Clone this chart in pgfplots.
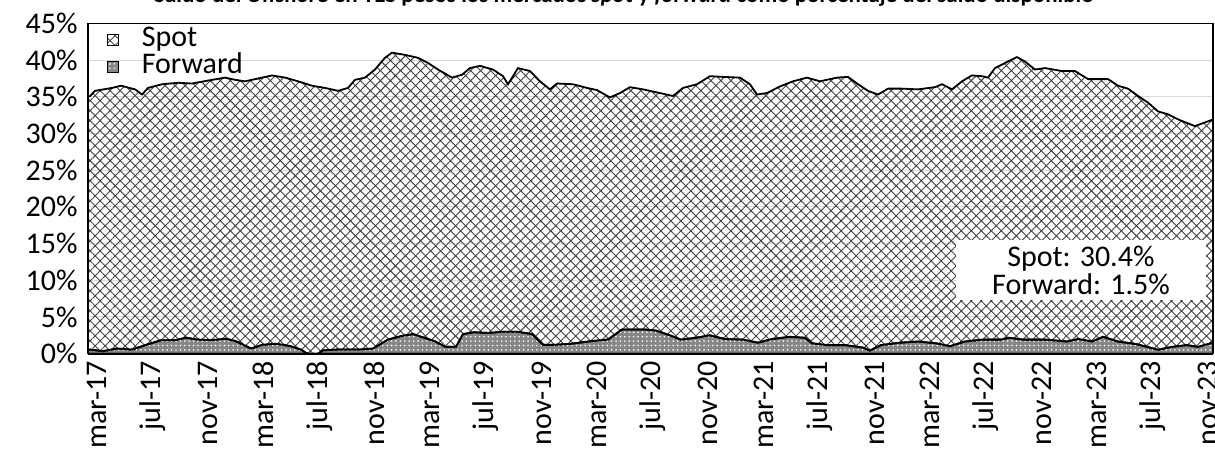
\documentclass[border=0pt]{standalone}
\usepackage{pgfplots}
\pgfplotsset{compat=1.18}
\usepackage{fontspec}
\setmainfont{Carlito}
\usetikzlibrary{patterns,patterns.meta}

\pgfplotstableread{
x y
-0.65 35.0
-0.50 35.1
-0.14 35.8
1.08 36.2
1.73 36.5
2.74 36.0
3.24 35.3
3.67 36.2
4.68 36.7
5.83 36.9
6.84 36.8
7.99 37.2
9.22 37.6
9.94 37.3
10.66 37.1
11.88 37.6
12.60 37.9
13.54 37.6
14.47 37.1
15.48 36.5
16.41 36.2
17.35 35.8
18.07 36.2
18.57 37.3
19.29 37.6
20.01 38.7
20.73 40.3
21.24 41.0
22.17 40.7
23.11 40.3
23.83 39.6
24.55 38.7
25.56 37.6
26.28 38.0
26.85 38.9
27.57 39.2
28.51 38.7
29.23 37.8
29.59 36.7
30.31 38.9
31.17 38.5
31.89 37.1
32.61 36.0
33.12 36.8
34.27 36.7
35.28 36.2
36.00 35.9
36.93 34.9
37.65 35.5
38.37 36.3
39.31 36.0
40.53 35.5
41.47 35.1
42.19 36.2
43.20 36.7
44.13 37.8
45.07 37.7
46.29 37.6
47.01 36.7
47.52 35.3
48.24 35.5
49.17 36.4
50.11 37.1
51.12 37.6
52.05 37.1
53.28 37.6
54.07 37.7
54.79 36.7
55.51 35.8
56.23 35.3
56.95 36.1
57.96 36.1
59.11 36.0
60.33 36.3
60.84 36.7
61.56 36.0
62.28 37.1
62.99 37.9
63.71 37.8
64.15 37.6
64.65 38.9
65.59 39.8
66.23 40.4
66.81 39.8
67.53 38.7
68.25 38.9
69.47 38.5
70.41 38.5
71.35 37.4
72.79 37.4
73.51 36.5
74.23 36.1
74.95 35.1
75.67 34.2
76.39 33.0
77.11 32.6
77.97 31.8
79.05 31.0
79.77 31.5
80.35 31.9
}\spottable

\pgfplotstableread{
x y
-0.65 0.50
-0.50 0.56
0.43 0.35
1.44 0.70
2.52 0.56
3.53 1.20
4.61 1.84
5.62 1.84
6.41 2.18
7.20 1.93
8.21 1.84
9.29 2.03
10.01 1.69
11.09 0.70
11.88 1.20
12.89 1.35
13.89 1.05
14.69 0.56
15.05 0.10
15.26 0.00
15.91 0.00
16.27 0.46
17.28 0.56
18.86 0.56
19.87 0.70
20.95 1.93
21.96 2.42
22.75 2.67
23.54 2.18
24.33 1.69
25.05 0.95
25.85 0.95
26.35 2.67
27.14 2.92
28.22 2.82
29.23 3.00
30.24 3.00
31.32 2.67
32.11 1.20
32.83 1.20
34.13 1.35
35.49 1.69
36.79 1.93
37.80 3.30
38.80 3.30
39.45 3.30
40.24 3.15
41.25 2.50
42.04 1.92
43.12 2.17
44.13 2.50
45.21 2.00
46.51 1.92
47.59 1.50
48.60 2.00
49.89 2.30
50.97 2.17
51.48 1.42
52.56 1.17
53.85 1.17
55.15 0.83
55.65 0.42
56.44 1.17
57.81 1.50
59.11 1.66
60.40 1.42
61.41 1.02
62.49 1.66
63.79 1.92
65.08 1.92
65.66 2.17
66.67 1.92
68.25 1.92
69.83 1.66
70.63 2.00
71.64 1.66
72.43 2.30
73.51 1.66
74.80 1.32
75.81 0.83
76.39 0.53
77.39 0.93
78.47 1.17
79.26 0.93
80.35 1.50
}\fwdtable

\begin{document}
\begin{tikzpicture}
\begin{axis}[
  name=ax,
  width=562.5bp, height=165.2bp, scale only axis,
  xmin=-0.65, xmax=80.35, ymin=0, ymax=45,
  xtick={0,4,...,80},
  xticklabels={mar-17,jul-17,nov-17,mar-18,jul-18,nov-18,mar-19,jul-19,nov-19,mar-20,jul-20,nov-20,mar-21,jul-21,nov-21,mar-22,jul-22,nov-22,mar-23,jul-23,nov-23},
  ytick={0,5,...,45},
  yticklabels={0\%,5\%,10\%,15\%,20\%,25\%,30\%,35\%,40\%,45\%},
  major tick length=0pt,
  tick style={draw=none},
  axis line style={draw=none},
  ymajorgrids, major grid style={draw=gray!30, line width=0.5bp},
  tick label style={font=\fontsize{15bp}{18bp}\selectfont},
  xticklabel style={rotate=90, anchor=east, inner xsep=3.5bp, inner ysep=0pt},
  yticklabel style={anchor=east, inner xsep=5bp, inner ysep=0pt},
  title={Saldo del \textit{Offshore} en TES pesos los mercados \textit{spot} y \textit{forward} como porcentaje del saldo disponible},
  title style={at={(0.476,1)}, anchor=base, yshift=4.3bp, inner sep=0pt, font=\fontsize{11.5bp}{13bp}\selectfont\bfseries},
  legend style={at={(0,1)}, anchor=north west, xshift=9.5bp, yshift=-1.5bp,
    draw=none, fill=none, inner sep=0pt, row sep=0pt,
    font=\fontsize{15bp}{18bp}\selectfont,
    nodes={inner sep=0pt, text height=10bp, text depth=3.5bp},
    /tikz/every odd column/.append style={column sep=11.5bp}},
  legend cell align=left,
  legend image code/.code={\draw[#1, draw=black, line width=0.4bp] (0bp,-2.5bp) rectangle (5.3bp,2.8bp);},
]
\addplot[draw=black, line width=0.9bp, pattern={Hatch[distance=3.54bp, angle=45, line width=0.45bp]}, pattern color=black!75] table[x=x,y=y]{\spottable} \closedcycle;
\addlegendentry{Spot}
\addplot[draw=black, line width=0.9bp, fill={rgb,255:red,135;green,135;blue,135},
  postaction={pattern={Dots[distance=2.2bp, radius=0.45bp]}, pattern color=white}] table[x=x,y=y]{\fwdtable} \closedcycle;
\addlegendentry{Forward}
\node[fill=white, inner sep=0pt, minimum width=125bp, minimum height=30bp, align=center,
  font=\fontsize{15bp}{14bp}\selectfont] at (axis cs:70.84,11.4) {Spot: 30.4\%\\Forward: 1.5\%};
\end{axis}
\draw[line width=0.6bp] (ax.south west) rectangle (ax.north east);
\draw[line width=1bp] (ax.south west) -- (ax.south east);
\pgfresetboundingbox
\path ([shift={(-44bp,-48.7bp)}]ax.south west) rectangle ([shift={(1bp,11.65bp)}]ax.north east);
\end{tikzpicture}
\end{document}
